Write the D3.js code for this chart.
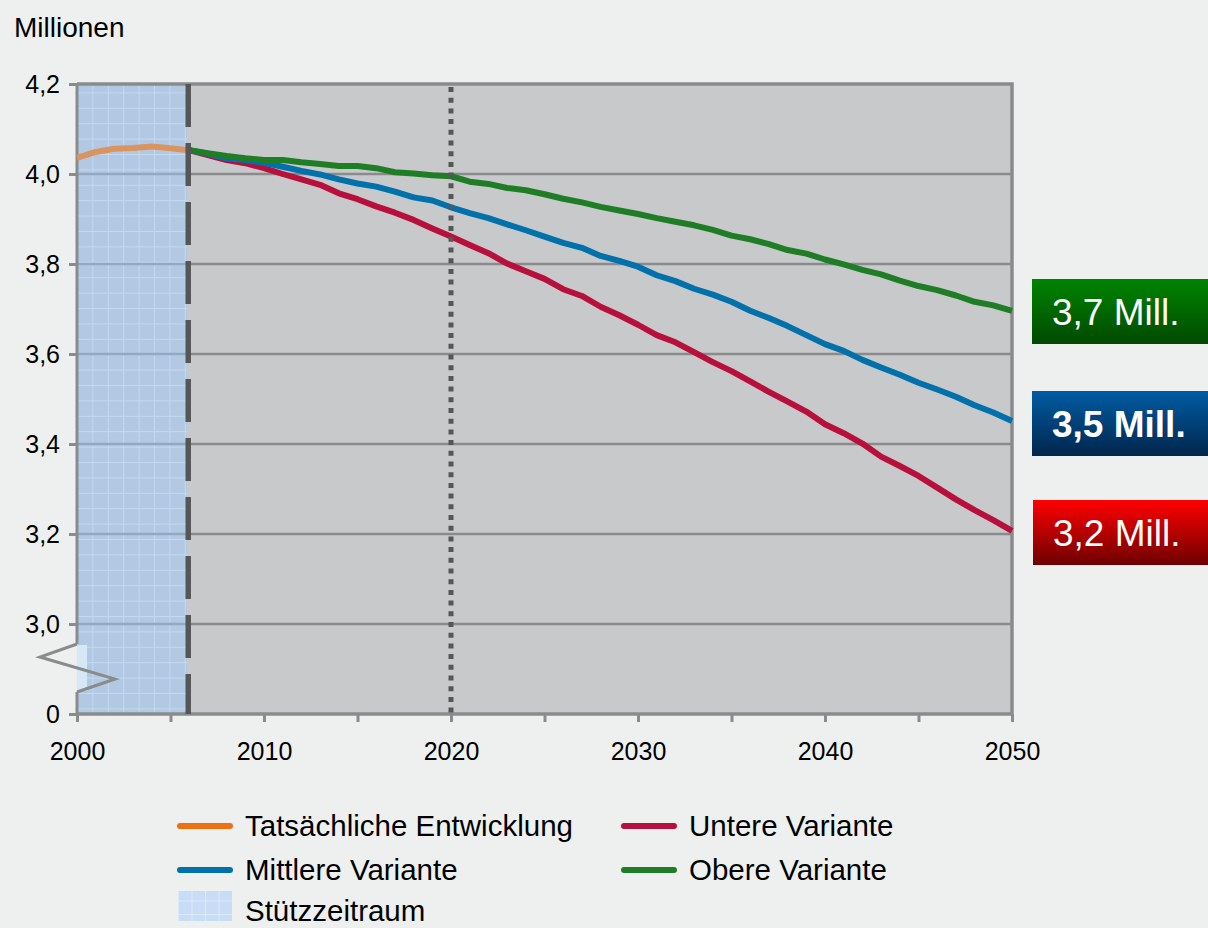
<!DOCTYPE html>
<html>
<head>
<meta charset="utf-8">
<script src="https://cdn.jsdelivr.net/npm/d3@7"></script>
<style>
  body { margin: 0; background: #eef0ef; }
  svg { display: block; font-family: "Liberation Sans", Arial, sans-serif; }
</style>
</head>
<body>
<div id="chart"></div>
<script>
// Jahre und Werte (Millionen)
const yearsHist = [2000, 2001, 2002, 2003, 2004, 2005, 2006];
const histValues = [4.036, 4.049, 4.056, 4.058, 4.061, 4.057, 4.053];

const yearsProj = d3.range(2006, 2051);
const untereValues = [4.053, 4.042, 4.031, 4.024, 4.013, 4.000, 3.988, 3.976, 3.957, 3.944,
  3.928, 3.914, 3.898, 3.879, 3.861, 3.842, 3.824, 3.801, 3.784, 3.767,
  3.744, 3.729, 3.705, 3.686, 3.665, 3.642, 3.626, 3.604, 3.582, 3.562,
  3.539, 3.516, 3.494, 3.472, 3.444, 3.424, 3.401, 3.372, 3.351, 3.329,
  3.303, 3.277, 3.253, 3.231, 3.207];
const mittlereValues = [4.053, 4.045, 4.035, 4.031, 4.025, 4.016, 4.007, 3.999, 3.988, 3.979,
  3.972, 3.961, 3.948, 3.941, 3.926, 3.913, 3.902, 3.888, 3.875, 3.861,
  3.847, 3.836, 3.818, 3.807, 3.794, 3.775, 3.762, 3.745, 3.732, 3.716,
  3.696, 3.680, 3.662, 3.642, 3.622, 3.607, 3.587, 3.570, 3.554, 3.536,
  3.521, 3.505, 3.486, 3.470, 3.451];
const obereValues = [4.053, 4.046, 4.040, 4.035, 4.031, 4.031, 4.026, 4.022, 4.018, 4.018,
  4.013, 4.004, 4.001, 3.997, 3.995, 3.983, 3.978, 3.969, 3.964, 3.955,
  3.945, 3.937, 3.927, 3.919, 3.911, 3.902, 3.894, 3.886, 3.876, 3.863,
  3.855, 3.844, 3.831, 3.823, 3.810, 3.799, 3.787, 3.777, 3.763, 3.751,
  3.742, 3.730, 3.716, 3.708, 3.696];

const yTicks = [2.8, 3.0, 3.2, 3.4, 3.6, 3.8, 4.0, 4.2];
const xMajorTicks = [2000, 2010, 2020, 2030, 2040, 2050];
const xMinorTicks = d3.range(2000, 2051, 5);
const stuetzEnde = 2006;
const markerJahr = 2020;

const endLabels = [
  { text: "3,7 Mill.", value: 3.696, top: "#008400", bottom: "#004a00", bold: false },
  { text: "3,5 Mill.", value: 3.451, top: "#005ca3", bottom: "#00264d", bold: true },
  { text: "3,2 Mill.", value: 3.207, top: "#ff0000", bottom: "#6e0000", bold: false }
];

const width = 1208, height = 928;
const margin = { top: 84, right: 196, bottom: 214, left: 77 };

const svg = d3.select("#chart").append("svg")
  .attr("width", width)
  .attr("height", height);

const defs = svg.append("defs");

// Gittermuster für den Stützzeitraum
const pat = defs.append("pattern")
  .attr("id", "stuetz")
  .attr("patternUnits", "userSpaceOnUse")
  .attr("width", 15.4).attr("height", 15.4);
pat.append("rect").attr("width", 15.4).attr("height", 15.4).attr("fill", "#b3c9e3");
pat.append("path").attr("d", "M0,0.5H15.4M0.5,0V15.4")
  .attr("stroke", "#c4daf3").attr("stroke-width", 1);

const patL = defs.append("pattern")
  .attr("id", "stuetzLegend")
  .attr("patternUnits", "userSpaceOnUse")
  .attr("width", 13.5).attr("height", 13.5);
patL.append("rect").attr("width", 13.5).attr("height", 13.5).attr("fill", "#c8ddf5");
patL.append("path").attr("d", "M0,0.5H13.5M0.5,0V13.5")
  .attr("stroke", "#dbe9f9").attr("stroke-width", 1);

endLabels.forEach((d, i) => {
  const g = defs.append("linearGradient")
    .attr("id", "grad" + i)
    .attr("x1", 0).attr("y1", 0).attr("x2", 0).attr("y2", 1);
  g.append("stop").attr("offset", "0%").attr("stop-color", d.top);
  g.append("stop").attr("offset", "100%").attr("stop-color", d.bottom);
});

const x = d3.scaleLinear()
  .domain([2000, 2050])
  .range([margin.left, width - margin.right]);

const y = d3.scaleLinear()
  .domain([2.8, 4.2])
  .range([height - margin.bottom, margin.top]);

const x0 = x(2000), x1 = x(2050), yTop = y(4.2), yBot = y(2.8);

// Plotfläche
svg.append("rect")
  .attr("x", x0).attr("y", yTop)
  .attr("width", x1 - x0).attr("height", yBot - yTop)
  .attr("fill", "#c8c9cb");

// Gitternetz
svg.append("g")
  .selectAll("line")
  .data(yTicks.filter(t => t > 2.8 && t < 4.2))
  .enter().append("line")
  .attr("x1", x0).attr("x2", x1)
  .attr("y1", d => y(d)).attr("y2", d => y(d))
  .attr("stroke", "#8a8b8d").attr("stroke-width", 2.5);

// Stützzeitraum
svg.append("rect")
  .attr("x", x0).attr("y", yTop)
  .attr("width", x(stuetzEnde) - x0 - 2).attr("height", yBot - yTop)
  .attr("fill", "url(#stuetz)");

// Gitterlinien im Stützzeitraum (durchscheinend)
svg.append("g")
  .selectAll("line")
  .data(yTicks.filter(t => t > 2.8 && t < 4.2))
  .enter().append("line")
  .attr("x1", x0).attr("x2", x(stuetzEnde))
  .attr("y1", d => y(d)).attr("y2", d => y(d))
  .attr("stroke", "#93a8c2").attr("stroke-width", 2.5);

// Rahmen oben und rechts
svg.append("path")
  .attr("d", `M${x0},${yTop}H${x1}V${yBot}`)
  .attr("fill", "none")
  .attr("stroke", "#8a8b8d").attr("stroke-width", 3.5);

// Y-Achse
svg.append("g")
  .attr("transform", `translate(${x0},0)`)
  .call(d3.axisLeft(y).tickValues(yTicks).tickSize(8).tickPadding(9)
    .tickFormat(d => d === 2.8 ? "0" : d3.format(".1f")(d).replace(".", ",")))
  .call(g => g.select(".domain").remove())
  .call(g => g.selectAll(".tick line").attr("stroke", "#8a8b8d").attr("stroke-width", 3))
  .call(g => g.selectAll(".tick text").attr("fill", "#000").style("font-size", "25px")
    .attr("font-family", "Liberation Sans, Arial, sans-serif"));

// Y-Achsenlinie mit Unterbrechung
const bruchOben = 644, bruchUnten = 692;
svg.append("path")
  .attr("d", `M${x0},${yTop}V${bruchOben}M${x0},${bruchUnten}V${yBot}`)
  .attr("stroke", "#8a8b8d").attr("stroke-width", 3);

svg.append("rect")
  .attr("x", x0).attr("y", bruchOben + 1)
  .attr("width", 10).attr("height", bruchUnten - bruchOben - 2)
  .attr("fill", "#d6e7f8");

svg.append("path")
  .attr("d", `M${x0},${bruchOben}L${x0 - 37},${bruchOben + 13}L${x0 + 38},${bruchOben + 35}L${x0},${bruchUnten}`)
  .attr("fill", "none")
  .attr("stroke", "#8a8b8d").attr("stroke-width", 3);

// X-Achse
svg.append("g")
  .attr("transform", `translate(0,${yBot})`)
  .call(d3.axisBottom(x).tickValues(xMinorTicks).tickSize(8).tickPadding(20)
    .tickFormat(d => xMajorTicks.includes(d) ? d : ""))
  .call(g => g.select(".domain").attr("stroke", "#8a8b8d").attr("stroke-width", 3.5)
    .attr("d", `M${x0},0H${x1}`))
  .call(g => g.selectAll(".tick line").attr("stroke", "#8a8b8d").attr("stroke-width", 3))
  .call(g => g.selectAll(".tick text").attr("fill", "#000").style("font-size", "25px")
    .attr("font-family", "Liberation Sans, Arial, sans-serif"));

// Linien
const line = d3.line()
  .x(d => x(d[0]))
  .y(d => y(d[1]));

const series = [
  { years: yearsHist, values: histValues, color: "#da9460" },
  { years: yearsProj, values: untereValues, color: "#b8103d" },
  { years: yearsProj, values: mittlereValues, color: "#0071aa" },
  { years: yearsProj, values: obereValues, color: "#1f7e25" }
];

svg.append("g")
  .selectAll("path")
  .data(series)
  .enter().append("path")
  .attr("d", s => line(s.years.map((yr, i) => [yr, s.values[i]])))
  .attr("fill", "none")
  .attr("stroke", s => s.color)
  .attr("stroke-width", 6)
  .attr("stroke-linejoin", "round");

// Ende Stützzeitraum (gestrichelt)
svg.append("line")
  .attr("x1", x(stuetzEnde) - 1).attr("x2", x(stuetzEnde) - 1)
  .attr("y1", yTop).attr("y2", yBot)
  .attr("stroke", "#555658").attr("stroke-width", 5.5)
  .attr("stroke-dasharray", "43,16");

// 2020 (gepunktet)
svg.append("line")
  .attr("x1", x(markerJahr)).attr("x2", x(markerJahr))
  .attr("y1", yTop + 3).attr("y2", yBot)
  .attr("stroke", "#555658").attr("stroke-width", 5)
  .attr("stroke-dasharray", "5,5.7");

// Einheit
svg.append("text")
  .attr("x", 14).attr("y", 37)
  .style("font-size", "28px")
  .text("Millionen");

// Endwert-Schilder
const labelG = svg.append("g")
  .selectAll("g")
  .data(endLabels)
  .enter().append("g")
  .attr("transform", (d, i) => `translate(${i === 2 ? 1033 : 1032},${[279, 391, 500][i]})`);

labelG.append("rect")
  .attr("width", 180).attr("height", 65)
  .attr("fill", (d, i) => `url(#grad${i})`);

labelG.append("text")
  .attr("x", 20).attr("y", 46)
  .attr("fill", "#fff")
  .style("font-size", "37px")
  .style("font-weight", d => d.bold ? "bold" : "normal")
  .text(d => d.text);

// Legende
const legendItems = [
  { label: "Tatsächliche Entwicklung", color: "#ee7010", col: 0, row: 0 },
  { label: "Untere Variante", color: "#b8103d", col: 1, row: 0 },
  { label: "Mittlere Variante", color: "#0071aa", col: 0, row: 1 },
  { label: "Obere Variante", color: "#1f7e25", col: 1, row: 1 },
  { label: "Stützzeitraum", color: null, col: 0, row: 2 }
];

const legend = svg.append("g")
  .selectAll("g")
  .data(legendItems)
  .enter().append("g")
  .attr("transform", d => `translate(${178 + d.col * 444},${826 + d.row * 44})`);

legend.filter(d => d.color)
  .append("line")
  .attr("x1", 2).attr("x2", 52)
  .attr("stroke", d => d.color)
  .attr("stroke-width", 6)
  .attr("stroke-linecap", "round");

legend.filter(d => !d.color)
  .append("rect")
  .attr("x", 0).attr("y", -23)
  .attr("width", 54).attr("height", 30)
  .attr("fill", "url(#stuetzLegend)");

legend.append("text")
  .attr("x", 67).attr("y", d => d.row === 2 ? 7 : 10)
  .style("font-size", "29.5px")
  .text(d => d.label);
</script>
</body>
</html>
